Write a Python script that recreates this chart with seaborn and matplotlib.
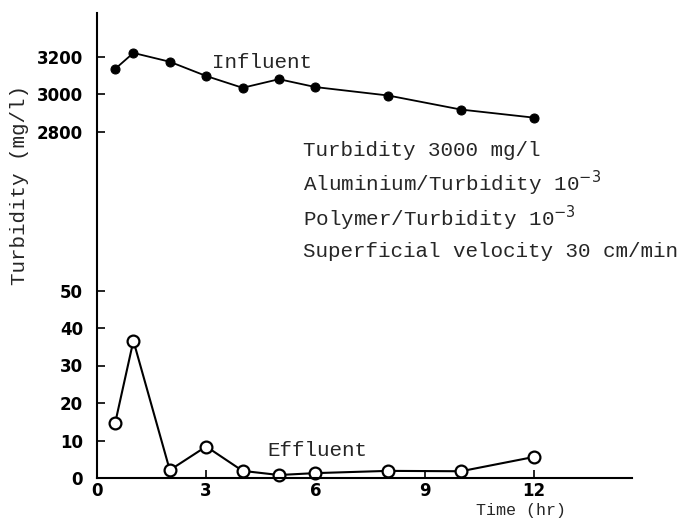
import numpy as np
import pandas as pd
import matplotlib
matplotlib.use("Agg")
import matplotlib.pyplot as plt
import seaborn as sns

# ---- data ----
influent_time = [0.5, 1, 2, 3, 4, 5, 6, 8, 10, 12]
influent_turb = [3135, 3220, 3173, 3097, 3034, 3080, 3038, 2993, 2918, 2875]
effluent_time = [0.5, 1, 2, 3, 4, 5, 6, 8, 10, 12]
effluent_turb = [14.7, 36.6, 2.1, 8.4, 1.9, 0.8, 1.3, 1.9, 1.8, 5.6]
x_ticks = [0, 3, 6, 9, 12]
y_ticks_low = [0, 10, 20, 30, 40, 50]
y_ticks_high = [2800, 3000, 3200]
notes = ["Turbidity 3000 mg/l",
         "Aluminium/Turbidity 10$^{-3}$",
         "Polymer/Turbidity 10$^{-3}$",
         "Superficial velocity 30 cm/min"]

df_in = pd.DataFrame({"time": influent_time, "turb": influent_turb})
df_ef = pd.DataFrame({"time": effluent_time, "turb": effluent_turb})

sns.set_style("ticks")
plt.rcParams["font.family"] = ["Liberation Mono", "DejaVu Sans Mono"]
plt.rcParams["mathtext.fontset"] = "dejavusans"

W, H = 698, 523
fig = plt.figure(figsize=(W / 100, H / 100), dpi=100)
ax = fig.add_axes([97 / W, 1 - 478 / H, (632 - 97) / W, (478 - 13) / H])

# broken (piecewise-linear) y scale: lower 0-60 at full scale, upper part compressed 20x
xp = np.array([-1000.0, 60.0, 2200.0, 5000.0])
fp = np.array([-1000.0, 60.0, 2200 / 20 - 47.65, 5000 / 20 - 47.65])
fwd = lambda v: np.interp(v, xp, fp)
inv = lambda f: np.interp(f, fp, xp)
ax.set_yscale("function", functions=(fwd, inv))

sns.lineplot(data=df_in, x="time", y="turb", ax=ax, color="black", lw=1.3,
             marker="o", markersize=6.5, markerfacecolor="black",
             markeredgecolor="black", clip_on=False)
sns.lineplot(data=df_ef, x="time", y="turb", ax=ax, color="black", lw=1.5,
             marker="o", markersize=8.5, markerfacecolor="white",
             markeredgecolor="black", markeredgewidth=1.6, clip_on=False)

ax.set_xlim(0, 14.7)
ax.set_ylim(0, 3433)
ax.set_xticks(x_ticks)
ax.set_xticklabels([str(t) for t in x_ticks])
ax.set_yticks(y_ticks_low + y_ticks_high)
ax.set_yticklabels([str(t) for t in y_ticks_low + y_ticks_high])
ax.yaxis.set_minor_locator(matplotlib.ticker.NullLocator())
ax.tick_params(axis="both", direction="in", length=6, width=1.2, colors="black",
               labelsize=12)
ax.tick_params(axis="y", pad=10)
ax.tick_params(axis="x", pad=3)
for lab in ax.get_xticklabels() + ax.get_yticklabels():
    lab.set_fontfamily("DejaVu Sans")
    lab.set_fontweight("bold")
ax.set_xlabel("")
ax.set_ylabel("")
for s in ["top", "right"]:
    ax.spines[s].set_visible(False)
for s in ["left", "bottom"]:
    ax.spines[s].set_linewidth(1.5)
    ax.spines[s].set_color("black")

def pt(x, y):
    return x / W, 1 - y / H

fig.text(*pt(212, 63), "Influent", fontsize=15, va="center", ha="left")
for yy, t in zip([150, 183, 218, 252], notes):
    fig.text(*pt(303, yy), t, fontsize=15, va="center", ha="left")
fig.text(*pt(267, 451), "Effluent", fontsize=15, va="center", ha="left")
fig.text(*pt(476, 510), "Time (hr)", fontsize=12, va="center", ha="left")
fig.text(*pt(20, 185), "Turbidity (mg/l)", fontsize=15, va="center",
         ha="center", rotation=90)

fig.savefig("out.png", dpi=100, facecolor="white")
